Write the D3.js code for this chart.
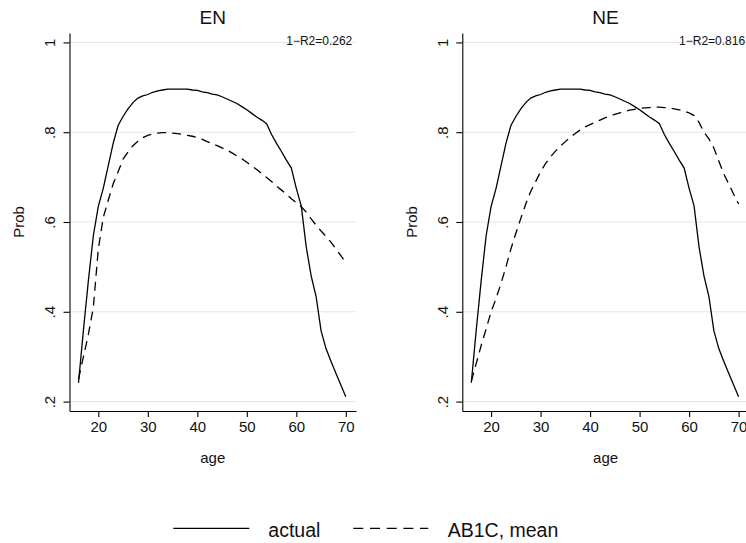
<!DOCTYPE html>
<html>
<head>
<meta charset="utf-8">
<script src="https://cdn.jsdelivr.net/npm/d3@7"></script>
<style>
  body { margin: 0; background: #fff; }
  text { font-family: "Liberation Sans", Arial, Helvetica, sans-serif; fill: #111; }
</style>
</head>
<body>
<div id="chart"></div>
<script>
// ages 16..70
var ages = [16,17,18,19,20,21,22,23,24,25,26,27,28,29,30,31,32,33,34,35,36,37,38,39,40,41,42,43,
  44,45,46,47,48,49,50,51,52,53,54,55,56,57,58,59,60,61,62,63,64,65,66,67,68,69,70];

// actual probability (same in both panels)
var actual = [0.242,0.36,0.47,0.57,0.635,0.675,0.725,0.775,0.815,0.835,0.852,0.866,0.876,0.881,
  0.884,0.889,0.892,0.894,0.896,0.896,0.896,0.896,0.896,0.894,0.893,0.890,0.888,0.885,0.883,0.879,
  0.874,0.869,0.864,0.857,0.850,0.842,0.834,0.827,0.819,0.795,0.775,0.757,0.738,0.720,0.675,0.636,
  0.545,0.480,0.434,0.358,0.318,0.290,0.263,0.237,0.211];

// AB1C, mean - EN panel
var meanEN = [0.25,0.30,0.35,0.41,0.54,0.61,0.648,0.685,0.712,0.74,0.756,0.77,0.78,0.788,0.793,
  0.796,0.798,0.799,0.799,0.798,0.797,0.795,0.793,0.791,0.788,0.784,0.779,0.775,0.770,0.765,0.760,
  0.754,0.747,0.741,0.733,0.725,0.717,0.708,0.699,0.690,0.680,0.671,0.662,0.652,0.643,0.634,0.622,
  0.607,0.593,0.580,0.568,0.555,0.540,0.525,0.510];

// AB1C, mean - NE panel
var meanNE = [0.245,0.285,0.325,0.362,0.40,0.43,0.463,0.50,0.54,0.575,0.608,0.64,0.668,0.69,0.712,
  0.73,0.745,0.758,0.769,0.779,0.789,0.797,0.805,0.812,0.817,0.822,0.827,0.832,0.836,0.840,0.843,
  0.846,0.849,0.851,0.853,0.854,0.855,0.856,0.856,0.855,0.854,0.852,0.850,0.847,0.843,0.837,0.822,
  0.800,0.785,0.765,0.736,0.707,0.685,0.662,0.640];

var panelTitles = ["EN", "NE"];
var r2Labels = ["1\u2212R2=0.262", "1\u2212R2=0.816"];
var xTicks = [20, 30, 40, 50, 60, 70];
var yTicks = [0.2, 0.4, 0.6, 0.8, 1];
var legendLabels = ["actual", "AB1C, mean"];

function drawChart() {
  var svgWidth = 746;
  var svgHeight = 543;

  var svg = d3.select("#chart")
    .append("svg")
    .attr("width", svgWidth)
    .attr("height", svgHeight);

  // plot region size (same for both panels)
  var width = 286.5;
  var height = 378;
  var plotTop = 33;
  var panelLeft = [69.5, 462.3];

  var xScale = d3.scaleLinear().domain([14.18, 72.06]).range([0, width]);
  var yScale = d3.scaleLinear().domain([0.179, 1.021]).range([height, 0]);

  var lineGen = d3.line()
    .x(function(d) { return xScale(d[0]); })
    .y(function(d) { return yScale(d[1]); });

  var meanSeries = [meanEN, meanNE];

  panelTitles.forEach(function(title, i) {
    var g = svg.append("g")
      .attr("transform", `translate(${panelLeft[i]}, ${plotTop})`);

    // grid lines
    g.selectAll(".grid")
      .data(yTicks)
      .enter()
      .append("line")
      .attr("x1", 0)
      .attr("x2", width)
      .attr("y1", d => yScale(d))
      .attr("y2", d => yScale(d))
      .attr("stroke", "#e6e6e6")
      .attr("stroke-width", 1);

    // y axis with rotated labels
    var yAxis = g.append("g")
      .call(d3.axisLeft(yScale)
        .tickValues(yTicks)
        .tickSize(6)
        .tickSizeOuter(0)
        .tickFormat(d => d === 1 ? "1" : String(d).replace(/^0/, "")));
    yAxis.selectAll("text")
      .attr("x", 0)
      .attr("y", -14.5)
      .attr("dy", null)
      .attr("text-anchor", "middle")
      .attr("transform", "rotate(-90)")
      .style("font-size", "15px");

    // x axis
    var xAxis = g.append("g")
      .attr("transform", `translate(0, ${height})`)
      .call(d3.axisBottom(xScale)
        .tickValues(xTicks)
        .tickSize(6)
        .tickSizeOuter(0));
    xAxis.selectAll("text")
      .attr("y", 10)
      .attr("dy", "0.71em")
      .style("font-size", "15px");

    [yAxis, xAxis].forEach(function(ax) {
      ax.attr("font-family", null).attr("font-size", null);
      ax.select(".domain").attr("stroke", "#000").attr("stroke-width", 1.1);
      ax.selectAll(".tick line").attr("stroke", "#000").attr("stroke-width", 1.1);
    });

    // actual line
    g.append("path")
      .datum(d3.zip(ages, actual))
      .attr("fill", "none")
      .attr("stroke", "#000")
      .attr("stroke-width", 1.3)
      .attr("d", lineGen);

    // mean line (dashed)
    g.append("path")
      .datum(d3.zip(ages, meanSeries[i]))
      .attr("fill", "none")
      .attr("stroke", "#000")
      .attr("stroke-width", 1.3)
      .attr("stroke-dasharray", "9,6")
      .attr("d", lineGen);

    // title
    g.append("text")
      .attr("x", width / 2)
      .attr("y", 24 - plotTop)
      .attr("text-anchor", "middle")
      .style("font-size", "19px")
      .text(title);

    // 1-R2 note
    g.append("text")
      .attr("x", width - 3.7)
      .attr("y", yScale(1) + 2.5)
      .attr("text-anchor", "end")
      .style("font-size", "12px")
      .text(r2Labels[i]);

    // axis titles
    g.append("text")
      .attr("transform", `translate(-45.5, ${yScale(0.6)}) rotate(-90)`)
      .attr("text-anchor", "middle")
      .style("font-size", "15px")
      .text("Prob");

    g.append("text")
      .attr("x", width / 2)
      .attr("y", 463.3 - plotTop)
      .attr("text-anchor", "middle")
      .style("font-size", "15px")
      .text("age");
  });

  // legend
  var legend = svg.append("g");
  var legendItems = [
    { x1: 173.3, x2: 249.3, tx: 268.3, dash: null },
    { x1: 353.3, x2: 428.3, tx: 447.7, dash: "10,6.7" }
  ];
  legendItems.forEach(function(item, i) {
    legend.append("line")
      .attr("x1", item.x1)
      .attr("x2", item.x2)
      .attr("y1", 528.3)
      .attr("y2", 528.3)
      .attr("stroke", "#000")
      .attr("stroke-width", 1.3)
      .attr("stroke-dasharray", item.dash);
    legend.append("text")
      .attr("x", item.tx)
      .attr("y", 536.7)
      .style("font-size", "19.5px")
      .text(legendLabels[i]);
  });
}

drawChart();
</script>
</body>
</html>
